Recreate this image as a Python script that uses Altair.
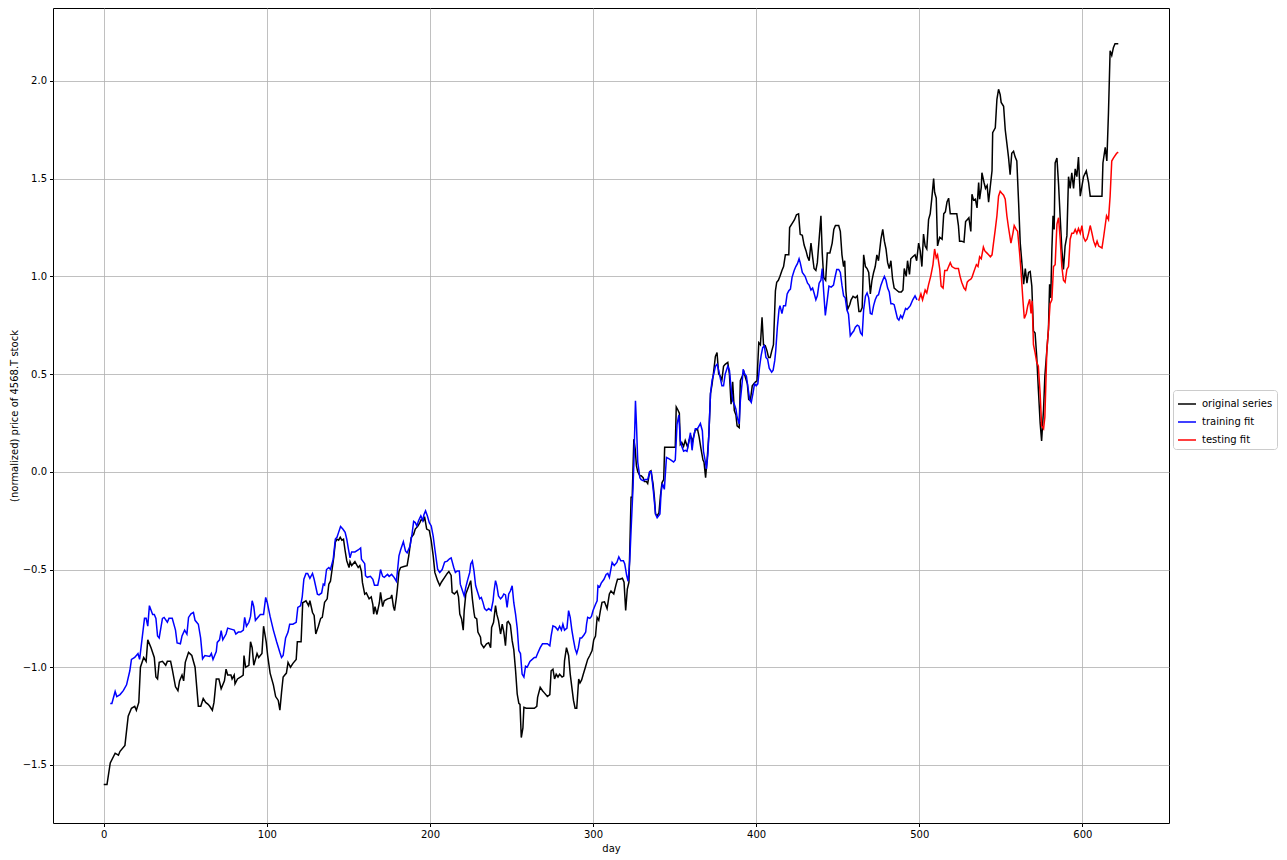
import altair as alt
import pandas as pd

# ---- original series (black) ----
ORIG_DAY = [0,2,4,7,9,10,13,15,17,19,20,21.5,22.5,24.5,26,27,29,31,32,33,34,36,38,39,41,42,44,45.5,46.5,48,49,50,52,54,56,58,
            59.5,61,62.5,64,65,66.6,67.6,69,70.6,72,74,75,76,78,78.7,80,80.5,82,84,85.5,86,87,89,90,91,92,94,95,97,98,99.6,100.5,102,104,105.4,107,108,109,110,112,113,114.5,116,118,118.7,120,
            121,122,124,125.6,126.4,128,129,130,131.6,133,134,135.4,137,138,139,140,141,142,143,144,145,146,147,148,149,150.4,151,152,154,156,157,158,158.6,160,161,162.7,164,165,165.5,166.3,167.5,169,169.7,171,172,174,176,176.6,177.6,178.3,179.4,180,181,182,184,186,
            187,188.5,190,191,192.7,193.8,194.6,196,196.7,198,199.6,200.8,202,203,204.7,206,207,209,210.6,211.6,213,213.6,215,216.6,217.5,218.3,219.4,220.4,221,222,223.6,225,226,227,227.5,228.7,229.4,231,231.4,233,234.7,236,237.2,237.8,239,240.2,241,242,
            243.3,244.3,245.3,246.3,247.3,248,249.3,250.4,251.4,252.5,253.5,254.5,255.2,256,257,257.6,259,261.5,264,265.5,266,267.6,269,270,272,273.5,274.3,275.4,276.4,277.4,278.5,279.5,281,282,282.5,283.7,285,286,287,288,289,290,291.2,292,293,294,295.3,296.7,298,299.4,300.4,301.5,302.5,303.5,
            304.5,305.5,307,308.6,310,311,312.7,314,315,316.5,318,319,320,321,322,322.5,323.3,324,325,325.8,326.6,327.4,328.7,329.5,330.7,331.5,332.7,333.5,334.7,335.5,336.8,337.6,338.3,339.3,340.4,341.3,342.3,343.3,343.9,350.4,351,351.8,352.9,353.5,354.4,355.5,356.5,358,359,360,361,362.5,364,365,366.2,367.4,368,369,
            370,371,372,373,374,375,376,377,378,379,380,381,382.6,383.6,384.6,385.6,386.6,387.6,388.3,389.6,390.3,391.5,392.5,393.5,394.6,395.4,396.4,397.6,398.6,399.6,400.5,401.6,402.6,403.6,404.5,405.6,406.6,407.6,408.6,409.6,410.6,411.8,412.6,413.6,414.6,415.8,416.8,417.9,420,420.5,422,423.5,424.7,426,
            427,428.3,429.4,430.6,431.5,432.5,433.6,434.6,435.5,436.6,437.5,438.6,439.7,440.5,441.4,442.6,443.6,445.2,446.6,447.6,448.6,450.6,451.6,452.6,453.6,454.3,455,456,457.4,458.2,459.4,460.8,462,463,464,465,465.9,467,468,469,470,471,472,473,474,475,476.5,477.6,478.6,479.6,480.6,481.6,482.6,483.6,484.6,486,487.5,489,490,
            490.8,492,492.8,494,494.8,496,497.4,498.4,499.6,500.6,501.6,502.6,503.6,504.6,505.7,506.7,507.7,508.8,509.4,510.4,511.2,512.5,514,515,516,517,518,519,523,524,524.7,526,527.4,528.4,529.4,530.4,531.6,532.3,533.3,534.4,535.4,536.4,537,538,538.4,539.7,540.6,541.6,542.5,543.6,544.6,545,546.6,547.6,548.6,
            549.6,550.2,551.7,552.7,553.7,554.7,555.7,556.7,557.8,558.8,559.8,560.9,561.9,563,564,565,566,567,568,569,570,571,572,573,574.1,575,576.2,577,578.2,579.2,579.9,580.6,581.3,582,582.7,583.3,584.4,585.4,586.4,587.4,588.4,589.4,590.5,591.5,592.5,593.5,594.6,595.6,596.6,597.6,598.7,599.7,600.7,602.4,603.8,604.8,612,612.6,614,615,616,617,618,619,620,622]
ORIG_VAL = [-1.60,-1.60,-1.49,-1.44,-1.45,-1.43,-1.40,-1.25,-1.21,-1.20,-1.22,-1.18,-1.00,-0.95,-0.97,-0.86,-0.90,-0.95,-1.05,-1.06,-0.975,-0.97,-0.99,-0.97,-0.97,-1.01,-1.10,-1.12,-1.07,-1.04,-1.07,-0.975,-0.924,-0.94,-1.00,-1.20,
            -1.20,-1.16,-1.18,-1.19,-1.20,-1.22,-1.18,-1.06,-1.06,-1.11,-1.07,-1.01,-1.04,-1.04,-1.06,-1.04,-1.085,-1.06,-1.05,-1.04,-0.94,-1.00,-0.99,-0.87,-0.90,-0.99,-0.93,-0.95,-0.93,-0.79,-0.87,-0.94,-1.03,-1.09,-1.15,-1.17,-1.22,-1.13,-1.05,-1.03,-0.975,-1.00,-0.98,-0.96,-0.87,-0.87,
            -0.87,-0.67,-0.66,-0.685,-0.66,-0.72,-0.735,-0.83,-0.79,-0.75,-0.745,-0.668,-0.65,-0.575,-0.56,-0.50,-0.44,-0.36,-0.345,-0.35,-0.335,-0.35,-0.345,-0.404,-0.455,-0.49,-0.46,-0.48,-0.46,-0.49,-0.48,-0.51,-0.566,-0.626,-0.62,-0.65,-0.64,-0.68,-0.728,-0.69,-0.73,-0.67,-0.617,-0.69,-0.66,-0.65,-0.645,-0.63,-0.69,-0.71,-0.645,-0.60,-0.51,-0.49,-0.485,-0.48,
            -0.43,-0.336,-0.32,-0.293,-0.277,-0.26,-0.245,-0.25,-0.23,-0.293,-0.30,-0.353,-0.43,-0.515,-0.557,-0.582,-0.565,-0.54,-0.52,-0.51,-0.53,-0.617,-0.625,-0.61,-0.64,-0.728,-0.753,-0.81,-0.71,-0.625,-0.59,-0.557,-0.65,-0.72,-0.745,-0.753,-0.82,-0.846,-0.88,-0.90,-0.88,-0.875,-0.90,-0.796,-0.77,-0.685,-0.73,-0.76,
            -0.83,-0.78,-0.82,-0.89,-0.77,-0.765,-0.784,-0.864,-0.91,-1.018,-1.137,-1.185,-1.19,-1.36,-1.31,-1.205,-1.21,-1.21,-1.21,-1.20,-1.154,-1.103,-1.12,-1.13,-1.15,-1.14,-1.018,-1.01,-1.06,-1.036,-1.05,-1.036,-1.05,-1.045,-0.967,-0.90,-0.94,-1.035,-1.103,-1.17,-1.21,-1.21,-1.06,-1.08,-1.065,-1.036,-1.00,-0.96,-0.94,-0.915,-0.86,-0.84,-0.745,-0.76,
            -0.71,-0.668,-0.665,-0.70,-0.625,-0.61,-0.625,-0.58,-0.55,-0.55,-0.545,-0.565,-0.71,-0.60,-0.565,-0.404,-0.13,-0.13,0.167,0.12,0.03,0.0,-0.02,-0.02,-0.03,-0.05,-0.05,-0.06,0.0,0.005,-0.063,-0.13,-0.216,-0.225,-0.21,-0.123,-0.055,-0.04,0.125,0.125,0.332,0.32,0.30,0.14,0.15,0.13,0.16,0.125,0.165,0.18,0.155,0.21,0.22,0.18,0.116,0.06,0.05,-0.03,
            0.07,0.19,0.40,0.45,0.517,0.59,0.61,0.50,0.49,0.47,0.54,0.55,0.56,0.50,0.346,0.46,0.313,0.29,0.235,0.226,0.466,0.49,0.51,0.48,0.45,0.37,0.363,0.44,0.45,0.46,0.465,0.66,0.65,0.79,0.65,0.645,0.62,0.585,0.585,0.62,0.65,0.926,0.97,0.98,1.0,1.03,1.05,1.11,1.11,1.25,1.27,1.29,1.315,1.32,
            1.215,1.21,1.16,1.13,1.10,1.08,1.17,1.10,1.04,1.03,1.07,1.19,1.31,1.12,0.994,0.98,1.12,1.12,1.17,1.24,1.26,1.26,1.23,1.11,1.05,1.08,0.926,0.83,0.856,0.88,0.898,0.89,0.90,0.82,0.82,0.84,1.11,1.05,1.04,1.02,0.91,0.98,1.02,1.05,1.11,1.08,1.19,1.24,1.18,1.14,1.07,1.04,1.08,0.99,0.94,0.93,0.92,0.92,0.93,
            1.04,1.00,1.08,1.01,1.09,1.10,1.11,1.08,1.17,1.13,1.05,1.216,1.155,1.14,1.29,1.32,1.40,1.50,1.43,1.40,1.156,1.20,1.19,1.32,1.33,1.38,1.40,1.32,1.32,1.26,1.18,1.18,1.175,1.28,1.29,1.30,1.23,1.42,1.39,1.395,1.35,1.48,1.395,1.455,1.53,1.48,1.45,1.465,1.38,1.465,1.54,1.735,1.76,1.906,1.957,
            1.93,1.89,1.87,1.75,1.68,1.61,1.52,1.63,1.64,1.61,1.59,1.377,1.17,1.06,0.96,1.04,0.965,1.02,1.025,0.95,0.72,0.71,0.59,0.423,0.25,0.158,0.32,0.49,0.62,0.73,0.96,0.89,1.14,1.31,1.24,1.58,1.605,1.47,1.30,1.14,1.035,1.155,1.207,1.51,1.45,1.53,1.45,1.55,1.51,1.61,1.41,1.46,1.51,1.54,1.48,1.41,1.41,1.58,1.66,1.59,1.84,2.154,2.13,2.17,2.19,2.19]

# ---- training fit (blue) ----
TRAIN_DAY = [4,5,7,8,10,12,14,16,17,19,21,22,23.5,25,26,27,28,30,31,32,33,34,36,37,39,40,42,44,45,47,48,49.6,51,52,53.5,55,56,58,59.4,60.6,62,65,66,67,69,69.6,71,72,73,75,76,78,80,81,82.5,84,85.6,86.4,87.5,89,90,91,92,93,95,96,98,99.3,100.3,102,104,106,108,109,110,111.5,113,114,116,118,119,120.7,
             121.7,122.7,124,125,126.4,128,129,131,132,133.6,134.6,135.4,136.6,138,139,140.7,142,143,144,145.2,146.7,148,149,150,151,152,154,156,157.5,158,160,160.5,161.6,163.5,165,166,168,169,169.7,171,172,174,175,176.5,178,179.4,180,181,182,183.7,185,186,187.8,189,190,191,192,193,194.4,195.6,196.3,197.3,198.4,199.6,200.8,
             202,203,204.7,206,207.5,209,210.6,212,213,214.6,215.6,216.7,218,218.6,220,221,222,223,224.4,225,226,227,228,229,230.5,231.5,232.5,233.5,234.7,236,237.5,238.7,239.3,240.2,241,242,243.3,244.4,245.3,246.3,247.3,248.3,249.3,250.4,251.4,252.5,253.5,254.5,255.5,256.5,257.6,258.6,259.6,261.3,262.7,264,265,266,267.6,269,270.5,272,273.5,
             274.3,275.4,277,278.4,279.5,280.6,281.5,282.5,284,285,286,287,288,289,290,291,292,293,294.4,295.5,296,296.7,298,299,300,301.4,302.5,303,304,305,306.7,308,309,310,311.7,313,314.6,315.8,317,318.6,319.4,320.6,321.5,322.5,323.3,324.5,325,326,326.6,327.4,328.7,329.5,330.7,332,333.5,334.7,335.7,337,338.3,339.3,341,341.7,342.5,343.7,
             345,346.4,347.8,349.4,350.4,351.5,352.6,353.5,354.4,355.5,356.5,357.6,358.6,359.7,360.7,361.7,362.7,364,365.8,367,367.7,368.9,369.5,370.4,371,372,373,374,375,376,377,378,379,380,381,382.6,383.6,384.6,385.6,386.6,387.6,388.3,389.6,390.3,391.5,392,393,394,395,396,397,398,399,400,401,402,403,404,405,406,407,408,409.5,410.4,
             411.4,412,413,414,414.6,415.8,416.8,418,419,420,421,422,423.3,424.3,425.3,426.3,427,428.3,430,431.5,432.5,433.6,434.6,435.5,436.6,437.5,438.6,439.7,440.5,441.4,442.4,443.6,444.6,446,447.4,448.4,449.4,450.6,451.6,452.6,453.6,454.6,455.6,456.6,457.7,458.8,459.8,460.8,462,463,464,465,465.9,467,468,469,470,471,472,473,474,475,
             476.5,477.6,478.6,479.6,480.6,481.6,482.6,483.6,484.6,485.6,486.6,487.5,488.6,489.6,490.6,491.6,492.5,494.5,496,497.4,498.6]
TRAIN_VAL = [-1.185,-1.185,-1.124,-1.15,-1.14,-1.12,-1.09,-1.018,-0.96,-0.95,-0.93,-0.96,-0.855,-0.75,-0.75,-0.79,-0.685,-0.73,-0.73,-0.75,-0.84,-0.85,-0.75,-0.745,-0.77,-0.75,-0.75,-0.81,-0.876,-0.88,-0.84,-0.81,-0.83,-0.745,-0.727,-0.72,-0.76,-0.78,-0.85,-0.957,-0.94,-0.945,-0.93,-0.96,-0.92,-0.873,-0.86,-0.813,-0.86,-0.83,-0.80,-0.805,-0.81,-0.83,-0.82,-0.82,-0.81,-0.745,-0.79,-0.77,-0.74,-0.66,-0.69,-0.76,-0.74,-0.73,-0.73,-0.643,-0.67,-0.74,-0.81,-0.87,-0.925,-0.95,-0.94,-0.85,-0.82,-0.78,-0.78,-0.77,-0.694,-0.685,
             -0.64,-0.55,-0.52,-0.52,-0.545,-0.52,-0.55,-0.626,-0.63,-0.62,-0.575,-0.58,-0.50,-0.49,-0.50,-0.447,-0.344,-0.335,-0.31,-0.28,-0.294,-0.31,-0.345,-0.395,-0.44,-0.41,-0.41,-0.40,-0.39,-0.447,-0.47,-0.532,-0.54,-0.535,-0.55,-0.58,-0.58,-0.54,-0.50,-0.535,-0.54,-0.525,-0.535,-0.525,-0.54,-0.56,-0.515,-0.43,-0.40,-0.358,-0.405,-0.415,-0.38,-0.32,-0.254,-0.26,-0.277,-0.25,-0.225,-0.25,-0.22,-0.20,-0.225,-0.26,-0.277,
             -0.33,-0.395,-0.498,-0.515,-0.50,-0.462,-0.457,-0.445,-0.44,-0.49,-0.515,-0.507,-0.507,-0.575,-0.61,-0.635,-0.59,-0.557,-0.515,-0.472,-0.457,-0.507,-0.582,-0.61,-0.65,-0.643,-0.668,-0.70,-0.71,-0.70,-0.71,-0.66,-0.61,-0.557,-0.582,-0.635,-0.65,-0.64,-0.625,-0.63,-0.694,-0.625,-0.61,-0.583,-0.67,-0.73,-0.80,-0.915,-0.93,-1.035,-1.05,-0.995,-1.00,-0.97,-0.96,-0.95,-0.95,-0.93,-0.90,-0.88,-0.88,-0.88,-0.89,
             -0.84,-0.788,-0.795,-0.81,-0.79,-0.81,-0.78,-0.81,-0.80,-0.71,-0.745,-0.81,-0.86,-0.905,-0.93,-0.90,-0.85,-0.85,-0.835,-0.82,-0.78,-0.745,-0.75,-0.74,-0.71,-0.68,-0.66,-0.583,-0.59,-0.57,-0.55,-0.525,-0.52,-0.54,-0.464,-0.48,-0.464,-0.435,-0.455,-0.455,-0.47,-0.53,-0.56,-0.455,-0.30,-0.08,0.04,0.363,0.245,0.05,-0.03,-0.04,-0.045,-0.04,-0.04,0.0,0.0,-0.10,-0.216,-0.235,-0.216,-0.107,-0.06,-0.09,
             0.073,0.067,0.06,0.05,0.06,0.244,0.29,0.16,0.13,0.105,0.11,0.105,0.15,0.20,0.11,0.18,0.22,0.22,0.247,0.21,0.105,0.05,0.015,0.09,0.19,0.40,0.47,0.50,0.54,0.55,0.52,0.48,0.44,0.44,0.50,0.54,0.52,0.43,0.363,0.346,0.32,0.28,0.245,0.363,0.466,0.525,0.50,0.49,0.43,0.37,0.355,0.40,0.45,0.44,0.45,0.53,0.593,0.635,0.645,0.585,0.576,0.53,0.51,0.52,
             0.57,0.62,0.74,0.83,0.85,0.81,0.85,0.85,0.91,0.926,0.935,0.995,1.03,1.05,1.065,1.09,1.07,1.02,1.00,0.965,0.955,0.93,0.94,0.915,0.88,0.90,0.965,0.98,1.04,0.92,0.80,0.88,0.95,0.945,0.955,0.998,1.035,1.035,1.02,0.955,0.90,0.89,0.83,0.806,0.696,0.71,0.72,0.74,0.75,0.745,0.71,0.70,0.83,0.898,0.915,0.89,0.81,0.806,0.85,0.88,0.90,0.906,
             0.955,0.98,1.00,0.98,0.94,0.92,0.86,0.86,0.855,0.82,0.785,0.776,0.80,0.786,0.81,0.836,0.83,0.85,0.88,0.90,0.88]

# ---- testing fit (red) ----
TEST_DAY = [499.6,501,502,503.6,504.6,505.7,507,508.4,509.4,510.4,511.2,512.5,513.4,514.6,515.6,517,518,519,520,522,524,525,526,527.4,528.4,529.4,530.4,531.6,532.3,533.3,535,536,537,538,539.3,540.2,541.4,542.5,543.6,544.6,545.5,546.6,547.6,548.6,549.6,550.6,551.7,552.7,553.7,554.7,556.2,557.4,558.2,559.4,560.3,561.5,562.3,563.5,564.4,565.6,566.5,567.7,568.5,569.2,
            570,571,572,573,574.1,575,576.2,577,578.2,579.2,580.2,581.3,582.3,583.3,584.4,585.4,586.4,587.4,588.4,589.4,590.5,591.5,592.5,593.5,594.6,595.6,596.6,597.6,598.7,599.7,600.7,601.8,602.8,603.8,604.8,605.9,606.9,608,609,610,612,613,614.8,616,617,618,619,621,622]
TEST_VAL = [0.875,0.91,0.88,0.93,0.915,0.958,1.00,1.06,1.14,1.095,1.11,1.04,0.95,0.94,1.03,1.03,1.05,1.07,1.05,1.04,1.04,1.00,0.97,0.94,0.93,0.97,0.98,0.985,0.994,1.02,1.06,1.05,1.10,1.09,1.15,1.13,1.12,1.11,1.10,1.11,1.17,1.24,1.31,1.41,1.435,1.425,1.415,1.395,1.31,1.25,1.17,1.22,1.26,1.24,1.23,1.12,1.035,0.883,0.784,0.81,0.85,0.883,0.81,0.875,
            0.65,0.61,0.56,0.54,0.40,0.235,0.22,0.28,0.62,0.73,0.86,0.88,1.05,1.06,1.267,1.30,1.19,1.05,0.98,0.97,1.035,1.05,1.19,1.22,1.22,1.24,1.22,1.245,1.22,1.26,1.20,1.18,1.19,1.22,1.26,1.22,1.18,1.155,1.18,1.155,1.145,1.20,1.31,1.29,1.41,1.59,1.605,1.63,1.635]

SERIES = ["original series", "training fit", "testing fit"]
COLORS = ["black", "blue", "red"]
X_TICKS = [0, 100, 200, 300, 400, 500, 600]
Y_TICKS = [-1.5, -1.0, -0.5, 0.0, 0.5, 1.0, 1.5, 2.0]

frames = []
for name, d, v in [(SERIES[0], ORIG_DAY, ORIG_VAL), (SERIES[1], TRAIN_DAY, TRAIN_VAL), (SERIES[2], TEST_DAY, TEST_VAL)]:
    frames.append(pd.DataFrame({"series": name, "day": d, "value": v}))
df = pd.concat(frames, ignore_index=True)

FONT = "DejaVu Sans"

chart = alt.Chart(df).mark_line(strokeWidth=1.5, clip=True).encode(
    x=alt.X("day:Q", scale=alt.Scale(domain=[-31.1, 653.1], nice=False, zero=False),
            axis=alt.Axis(title="day", values=X_TICKS, format="d", grid=True)),
    y=alt.Y("value:Q", scale=alt.Scale(domain=[-1.797, 2.373], nice=False, zero=False),
            axis=alt.Axis(title="(normalized) price of 4568.T stock", values=Y_TICKS, grid=True,
                          labelExpr="replace(format(datum.value, '.1f'), '-', '\u2212')")),
    color=alt.Color("series:N", scale=alt.Scale(domain=SERIES, range=COLORS),
                    legend=alt.Legend(orient="none", legendX=1120, legendY=382, title=None,
                                      symbolType="stroke", symbolStrokeWidth=1.5, symbolSize=324,
                                      labelFont=FONT, labelFontSize=10, labelColor="black",
                                      strokeColor="#cccccc", fillColor="white", padding=4,
                                      cornerRadius=3, rowPadding=3, labelOffset=5)),
    order=alt.Order("day:Q"),
).properties(
    width=1116, height=815,
    autosize=alt.AutoSizeParams(type="none"),
    padding={"left": 45, "top": 0, "right": 109, "bottom": 35},
).configure_view(
    stroke="black", strokeWidth=1
).configure_axis(
    labelFont=FONT, labelFontSize=10, labelColor="black",
    titleFont=FONT, titleFontSize=10, titleFontWeight="normal", titleColor="black",
    tickColor="black", tickSize=3.5, labelPadding=3, domain=False,
    gridColor="#b0b0b0", gridWidth=0.8,
).configure_axisY(titlePadding=3).configure_axisX(titlePadding=4)

chart.save("out.html", embed_options={"renderer": "svg", "actions": False})
